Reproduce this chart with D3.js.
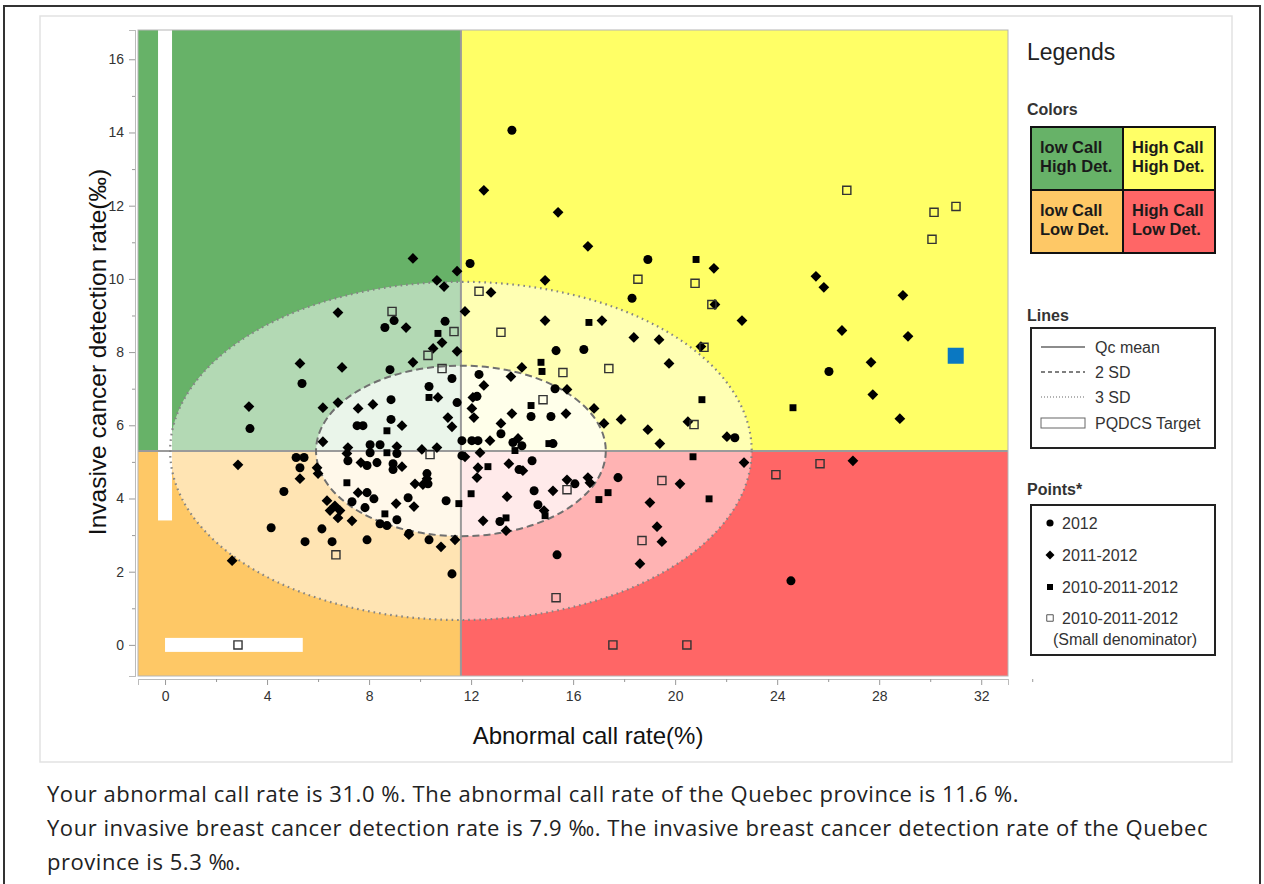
<!DOCTYPE html>
<html>
<head>
<meta charset="utf-8">
<script src="https://cdn.jsdelivr.net/npm/d3@7"></script>
<style>
  body { margin: 0; background: #fff; }
  svg { display: block; font-family: "Liberation Sans", Arial, sans-serif; }
</style>
</head>
<body>
<svg id="chart" width="1264" height="884"></svg>
<script>
// ---- data ----
var qcMean = [11.6, 5.3];          // Quebec mean: call rate %, detection rate per mille
var sd2 = [5.68, 2.33];            // semi axes of the 2 SD ellipse
var sd3 = [11.4, 4.62];            // semi axes of the 3 SD ellipse
var targetCallMax = 5.4;           // PQDCS target bar along the x axis
var targetDetMin = 3.4;            // PQDCS target bar along the y axis
var you = [31.0, 7.9];

var xTicks = [0, 4, 8, 12, 16, 20, 24, 28, 32];
var yTicks = [0, 2, 4, 6, 8, 10, 12, 14, 16];

var pts2012 = [[8.98,8.86],[8.62,8.67],[10.98,8.84],[11.96,10.42],[11.25,7.28],[8.82,7.52],[5.37,7.14],[10.35,7.06],
  [11.45,6.62],[8.86,6.70],[8.86,6.16],[7.53,5.99],[7.76,5.99],[11.64,5.58],[8.04,5.47],[8.43,5.47],[11.64,5.17],
  [7.17,5.03],[9.09,5.23],[8.04,5.25],[7.92,4.90],[8.31,4.98],[8.94,4.95],[8.94,4.79],[10.27,4.68],[10.31,4.40],
  [5.14,5.12],[5.45,5.12],[5.29,4.84],[4.66,4.19],[7.92,4.16],[8.19,3.99],[7.33,3.91],[7.84,3.75],[9.53,4.02],
  [11.02,3.94],[6.15,3.17],[8.43,3.31],[8.70,3.26],[9.09,3.42],[10.35,2.87],[5.49,2.82],[6.55,2.82],[7.92,2.87],
  [4.16,3.20],[3.33,5.91],[11.25,1.94],[9.56,3.04],[13.60,14.06],[18.93,10.53],[18.31,9.47],[15.33,8.04],
  [16.42,8.07],[12.31,7.39],[12.23,6.79],[15.29,7.00],[14.35,6.24],[15.13,6.24],[13.17,5.77],[12.03,5.58],
  [12.27,5.58],[13.64,5.53],[13.99,5.44],[14.39,5.03],[14.47,4.21],[16.07,4.40],[17.76,4.57],[14.62,3.83],
  [13.13,3.37],[15.37,2.46],[26.03,7.47],[22.34,5.66],[24.54,1.75],[13.88,4.79],[15.21,5.50]];

var pts2011_2012 = [[9.72,10.56],[10.66,9.96],[10.94,9.79],[11.45,10.21],[6.78,9.08],[9.45,8.67],[11.76,9.11],
  [10.86,8.26],[10.51,8.10],[11.45,8.02],[9.72,7.72],[5.29,7.69],[6.94,7.58],[10.70,6.76],[8.15,6.57],[7.57,6.46],
  [6.19,6.48],[6.78,6.62],[11.09,6.21],[11.25,5.96],[9.29,5.99],[6.19,5.55],[7.17,5.39],[9.09,5.42],[10.07,5.34],
  [10.66,5.39],[7.13,5.23],[7.68,4.98],[9.29,4.87],[10.27,4.54],[9.80,4.40],[10.11,4.38],[5.29,4.54],[5.96,4.84],
  [6.00,4.68],[7.57,4.16],[9.06,3.86],[9.76,3.78],[6.35,3.94],[6.66,3.80],[6.86,3.67],[6.78,3.47],[7.33,3.39],
  [6.47,3.67],[9.56,3.01],[10.82,2.68],[11.37,2.87],[3.29,6.51],[2.86,4.92],[2.63,2.30],[12.50,12.42],
  [15.41,11.82],[16.58,10.89],[21.52,10.29],[14.90,9.96],[12.78,9.63],[21.56,9.30],[22.62,8.86],[14.90,8.86],
  [17.13,8.86],[18.38,8.40],[19.37,8.34],[21.01,8.15],[19.76,7.69],[13.99,7.58],[13.56,7.33],[12.50,7.09],
  [12.07,6.76],[15.76,6.98],[15.72,6.32],[13.60,6.32],[16.82,6.46],[17.21,6.05],[17.88,6.16],[12.03,6.46],
  [12.11,6.21],[13.17,6.05],[12.74,5.58],[13.84,5.64],[11.76,5.14],[12.35,5.25],[12.27,4.84],[12.23,4.57],
  [13.48,4.95],[14.03,4.76],[13.41,4.05],[15.21,4.21],[15.76,4.51],[16.58,4.57],[16.66,4.43],[14.86,3.67],
  [12.47,3.39],[13.37,3.12],[18.93,5.88],[19.40,5.50],[20.50,6.10],[22.03,5.69],[22.70,4.98],[20.19,4.40],
  [19.01,3.89],[19.29,3.23],[19.48,2.82],[18.62,2.22],[25.52,10.07],[25.83,9.77],[28.93,9.55],[26.54,8.59],
  [29.13,8.43],[27.68,7.72],[27.75,6.84],[28.81,6.18],[26.97,5.03]];

var pts2010_2012 = [[10.70,8.51],[10.35,6.76],[8.70,5.85],[8.70,5.25],[7.13,4.43],[11.52,3.86],[8.62,3.58],
  [20.82,10.53],[16.62,8.81],[14.74,7.72],[14.78,7.47],[14.35,6.54],[13.72,5.31],[15.05,5.50],[12.66,4.87],
  [12.00,4.13],[14.90,3.53],[13.37,3.47],[17.37,4.16],[17.01,3.97],[21.05,6.70],[20.70,5.14],[21.33,3.99],
  [24.62,6.48]];

var ptsSmallDen = [[8.90,9.11],[11.33,8.56],[10.31,7.91],[10.86,7.55],[10.39,5.20],[6.70,2.46],[2.86,0],
  [12.31,9.66],[13.17,8.54],[18.54,9.99],[20.78,9.88],[21.44,9.30],[15.60,7.44],[17.40,7.55],[14.82,6.70],
  [21.13,8.13],[20.74,6.02],[15.76,4.24],[19.48,4.49],[18.70,2.85],[15.33,1.29],[17.56,0],[20.46,0],
  [26.73,12.42],[30.15,11.82],[31.01,11.98],[30.07,11.08],[25.68,4.95],[23.95,4.65]];

var quadColors = { lowHigh: "#67b268", highHigh: "#ffff66", lowLow: "#fec866", highLow: "#ff6666" };

var infoLines = [
  "Your abnormal call rate is 31.0 %. The abnormal call rate of the Quebec province is 11.6 %.",
  "Your invasive breast cancer detection rate is 7.9 \u2030. The invasive breast cancer detection rate of the Quebec",
  "province is 5.3 \u2030."
];

// ---- layout ----
var svg = d3.select("#chart");
var xDom = [-1.06, 33.05], yDom = [-0.85, 16.8];
var x = d3.scaleLinear().domain(xDom).range([138, 1008]);
var y = d3.scaleLinear().domain(yDom).range([676, 30]);

// frames
svg.append("rect").attr("x", 4).attr("y", 6).attr("width", 1256).attr("height", 900)
    .style("fill", "none").style("stroke", "#333").style("stroke-width", 2);
svg.append("rect").attr("x", 40).attr("y", 16).attr("width", 1192).attr("height", 746)
    .style("fill", "#fff").style("stroke", "#e2e2e2").style("stroke-width", 1.5);

var plot = svg.append("g");

// quadrants
var quads = [
  { c: quadColors.lowHigh,  x0: xDom[0],   x1: qcMean[0], y0: qcMean[1], y1: yDom[1] },
  { c: quadColors.highHigh, x0: qcMean[0], x1: xDom[1],   y0: qcMean[1], y1: yDom[1] },
  { c: quadColors.lowLow,   x0: xDom[0],   x1: qcMean[0], y0: yDom[0],   y1: qcMean[1] },
  { c: quadColors.highLow,  x0: qcMean[0], x1: xDom[1],   y0: yDom[0],   y1: qcMean[1] }
];
plot.selectAll("rect.quad").data(quads).enter().append("rect")
    .attr("class", "quad")
    .attr("x", d => x(d.x0)).attr("width", d => x(d.x1) - x(d.x0))
    .attr("y", d => y(d.y1)).attr("height", d => y(d.y0) - y(d.y1))
    .style("fill", d => d.c);

var cx = x(qcMean[0]), cy = y(qcMean[1]);
function ell(sd) {
  return plot.append("ellipse").attr("cx", cx).attr("cy", cy)
    .attr("rx", x(qcMean[0] + sd[0]) - cx)
    .attr("ry", cy - y(qcMean[1] + sd[1]));
}
// lighter tint inside the ellipses
ell(sd3).style("fill", "#fff").style("fill-opacity", 0.5);
ell(sd2).style("fill", "#fff").style("fill-opacity", 0.72);

// PQDCS target bars
plot.append("rect").attr("x", x(0) - 7).attr("width", 14)
    .attr("y", y(yDom[1])).attr("height", y(targetDetMin) - y(yDom[1]))
    .style("fill", "#fff");
plot.append("rect").attr("x", x(0)).attr("width", x(targetCallMax) - x(0))
    .attr("y", y(0) - 7).attr("height", 14)
    .style("fill", "#fff");

// mean lines
plot.append("line").attr("x1", x(xDom[0])).attr("x2", x(xDom[1])).attr("y1", cy).attr("y2", cy)
    .style("stroke", "#9a9a9a").style("stroke-width", 2);
plot.append("line").attr("x1", cx).attr("x2", cx).attr("y1", y(yDom[0])).attr("y2", y(yDom[1]))
    .style("stroke", "#9a9a9a").style("stroke-width", 2);

// ellipse outlines
ell(sd3).style("fill", "none").style("stroke", "#858585").style("stroke-width", 2.2)
    .style("stroke-dasharray", "1.6,4");
ell(sd2).style("fill", "none").style("stroke", "#707070").style("stroke-width", 2)
    .style("stroke-dasharray", "7,4");

// plot frame
plot.append("rect").attr("x", x(xDom[0])).attr("y", y(yDom[1]))
    .attr("width", x(xDom[1]) - x(xDom[0])).attr("height", y(yDom[0]) - y(yDom[1]))
    .style("fill", "none").style("stroke", "#b5b5b5").style("stroke-width", 1);

// ---- axes ----
var yAxis = svg.append("g").attr("transform", "translate(135,0)")
    .call(d3.axisLeft(y).tickValues(yTicks).tickSize(6).tickPadding(5));
var yMinor = svg.append("g").attr("transform", "translate(135,0)")
    .call(d3.axisLeft(y).tickValues(yTicks.slice(0, -1).map(d => d + 1)).tickSize(3).tickFormat(""));
var xAxis = svg.append("g").attr("transform", "translate(0,679)")
    .call(d3.axisBottom(x).tickValues(xTicks).tickSize(6).tickPadding(6));
var xMinor = svg.append("g").attr("transform", "translate(0,679)")
    .call(d3.axisBottom(x).tickValues(xTicks.map(d => d + 2)).tickSize(3).tickFormat(""));
[yAxis, yMinor, xAxis, xMinor].forEach(function(a) {
  a.select(".domain").style("stroke", "#bbb");
  a.selectAll(".tick line").style("stroke", "#999");
  a.selectAll("text").style("font-size", "14px").style("fill", "#333")
    .style("font-family", "'Liberation Sans', Arial, sans-serif");
});

svg.append("text").attr("x", 588).attr("y", 744).attr("text-anchor", "middle")
    .style("font-size", "24px").style("fill", "#111")
    .text("Abnormal call rate(%)");
svg.append("text").attr("transform", "translate(106,352) rotate(-90)").attr("text-anchor", "middle")
    .style("font-size", "24.5px").style("fill", "#111")
    .text("Invasive cancer detection rate(\u2030)");

// ---- points ----
var symCircle = d3.symbol().type(d3.symbolCircle).size(64);
var symDiamond = d3.symbol().type(d3.symbolSquare).size(58);
var symSquare = d3.symbol().type(d3.symbolSquare).size(48);
var symOpen = d3.symbol().type(d3.symbolSquare).size(66);

var pg = svg.append("g");
pg.selectAll("path.c").data(pts2012).enter().append("path").attr("class", "c")
    .attr("transform", d => "translate(" + x(d[0]) + "," + y(d[1]) + ")")
    .attr("d", symCircle).style("fill", "#000");
pg.selectAll("path.d").data(pts2011_2012).enter().append("path").attr("class", "d")
    .attr("transform", d => "translate(" + x(d[0]) + "," + y(d[1]) + ") rotate(45)")
    .attr("d", symDiamond).style("fill", "#000");
pg.selectAll("path.s").data(pts2010_2012).enter().append("path").attr("class", "s")
    .attr("transform", d => "translate(" + x(d[0]) + "," + y(d[1]) + ")")
    .attr("d", symSquare).style("fill", "#000");
pg.selectAll("path.o").data(ptsSmallDen).enter().append("path").attr("class", "o")
    .attr("transform", d => "translate(" + x(d[0]) + "," + y(d[1]) + ")")
    .attr("d", symOpen).style("fill", "none").style("stroke", "#333").style("stroke-width", 1.4);
pg.append("rect").attr("x", x(you[0]) - 8).attr("y", y(you[1]) - 8).attr("width", 16).attr("height", 16)
    .style("fill", "#0a78c2");

// ---- legends ----
var lg = svg.append("g");
lg.append("text").attr("x", 1027).attr("y", 60).style("font-size", "23px").style("fill", "#222").text("Legends");

function head(t, yy) {
  lg.append("text").attr("x", 1027).attr("y", yy).style("font-size", "16px").style("font-weight", "bold")
    .style("fill", "#333").text(t);
}
head("Colors", 115);
var cells = [
  { c: quadColors.lowHigh,  col: 0, row: 0, t: ["low Call", "High Det."] },
  { c: quadColors.highHigh, col: 1, row: 0, t: ["High Call", "High Det."] },
  { c: quadColors.lowLow,   col: 0, row: 1, t: ["low Call", "Low Det."] },
  { c: quadColors.highLow,  col: 1, row: 1, t: ["High Call", "Low Det."] }
];
var cw = 92, ch = 63, gx = 1031, gy = 127;
var cg = lg.selectAll("g.cell").data(cells).enter().append("g").attr("class", "cell")
    .attr("transform", d => "translate(" + (gx + d.col * cw) + "," + (gy + d.row * ch) + ")");
cg.append("rect").attr("width", cw).attr("height", ch).style("fill", d => d.c)
    .style("stroke", "#111").style("stroke-width", 2);
cg.append("text").attr("x", 9).attr("y", 26).style("font-size", "16.5px").style("font-weight", "bold")
    .style("fill", "#1a1a1a").text(d => d.t[0]);
cg.append("text").attr("x", 9).attr("y", 45).style("font-size", "16.5px").style("font-weight", "bold")
    .style("fill", "#1a1a1a").text(d => d.t[1]);

head("Lines", 321);
lg.append("rect").attr("x", 1031).attr("y", 328).attr("width", 184).attr("height", 120)
    .style("fill", "#fff").style("stroke", "#222").style("stroke-width", 2);
var lineItems = [
  { t: "Qc mean", dash: null, c: "#666", yy: 347 },
  { t: "2 SD", dash: "4,3", c: "#555", yy: 372 },
  { t: "3 SD", dash: "1,2", c: "#999", yy: 397 }
];
lineItems.forEach(function(d) {
  lg.append("line").attr("x1", 1041).attr("x2", 1085).attr("y1", d.yy).attr("y2", d.yy)
    .style("stroke", d.c).style("stroke-width", 1.5).style("stroke-dasharray", d.dash);
  lg.append("text").attr("x", 1095).attr("y", d.yy + 6).style("font-size", "16px").style("fill", "#333").text(d.t);
});
lg.append("rect").attr("x", 1041).attr("y", 418).attr("width", 44).attr("height", 10)
    .style("fill", "#fff").style("stroke", "#666").style("stroke-width", 1);
lg.append("text").attr("x", 1095).attr("y", 429).style("font-size", "16px").style("fill", "#333").text("PQDCS Target");

head("Points*", 495);
lg.append("rect").attr("x", 1031).attr("y", 505).attr("width", 184).attr("height", 150)
    .style("fill", "#fff").style("stroke", "#222").style("stroke-width", 2);
var ptItems = [
  { t: "2012", sym: d3.symbol().type(d3.symbolCircle).size(40), rot: 0, fill: "#000", yy: 523 },
  { t: "2011-2012", sym: d3.symbol().type(d3.symbolSquare).size(40), rot: 45, fill: "#000", yy: 555 },
  { t: "2010-2011-2012", sym: d3.symbol().type(d3.symbolSquare).size(36), rot: 0, fill: "#000", yy: 587 },
  { t: "2010-2011-2012", sym: d3.symbol().type(d3.symbolSquare).size(42), rot: 0, fill: "none", yy: 618 }
];
ptItems.forEach(function(d) {
  lg.append("path").attr("transform", "translate(1050," + d.yy + ") rotate(" + d.rot + ")")
    .attr("d", d.sym).style("fill", d.fill).style("stroke", d.fill === "none" ? "#555" : null);
  lg.append("text").attr("x", 1062).attr("y", d.yy + 6).style("font-size", "16px").style("fill", "#333").text(d.t);
});
lg.append("text").attr("x", 1053).attr("y", 645).style("font-size", "16px").style("fill", "#333")
    .text("(Small denominator)");

// ---- text under the chart ----
svg.selectAll("text.info").data(infoLines).enter().append("text").attr("class", "info")
    .attr("x", 47).attr("y", (d, i) => 802 + i * 34)
    .style("font-family", "'Open Sans', Lato, sans-serif").style("font-size", "22px")
    .style("letter-spacing", "0.55px").style("fill", "#222")
    .text(d => d);
</script>
</body>
</html>
